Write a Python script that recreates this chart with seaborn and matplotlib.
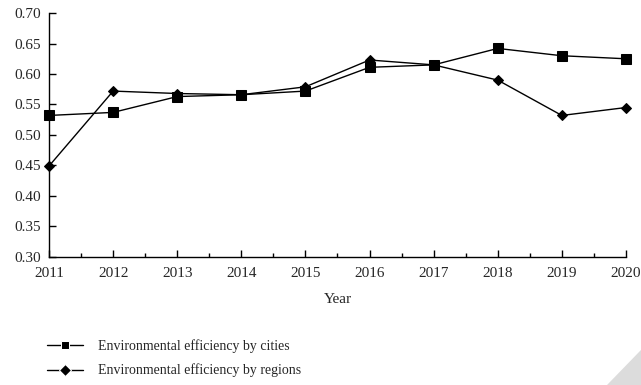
import pandas as pd
import matplotlib.pyplot as plt
import seaborn as sns
from matplotlib.ticker import MultipleLocator
from matplotlib.patches import Polygon

# data
years = [2011, 2012, 2013, 2014, 2015, 2016, 2017, 2018, 2019, 2020]
cities = [0.532, 0.537, 0.563, 0.566, 0.572, 0.611, 0.615, 0.642, 0.630, 0.625]
regions = [0.449, 0.572, 0.568, 0.566, 0.579, 0.623, 0.615, 0.590, 0.532, 0.545]
series_names = ["Environmental efficiency by cities", "Environmental efficiency by regions"]

df = pd.DataFrame({
    "Year": years * 2,
    "value": cities + regions,
    "series": [series_names[0]] * len(years) + [series_names[1]] * len(years),
})

sns.set_style("ticks")
plt.rcParams["font.family"] = ["Liberation Serif", "DejaVu Serif"]

fig = plt.figure(figsize=(6.41, 3.85), dpi=100)
ax = fig.add_axes([0.0765, 0.333, 0.9, 0.633])

sns.lineplot(data=df, x="Year", y="value", style="series", markers=["s", "D"],
             dashes=False, color="black", linewidth=1.0, ax=ax, legend=True)
# marker sizes as in the reference
for line, ms in zip(ax.lines, [7, 5.5]):
    line.set_markersize(ms)
    line.set_markeredgecolor("black")
    line.set_markerfacecolor("black")
    line.set_clip_on(False)

ax.set_xlim(2011, 2020)
ax.set_ylim(0.30, 0.70)
ax.set_xticks(years)
ax.xaxis.set_minor_locator(MultipleLocator(0.5))
ax.yaxis.set_major_locator(MultipleLocator(0.05))
ax.yaxis.set_major_formatter(plt.FormatStrFormatter("%.2f"))
ax.tick_params(axis="both", which="both", direction="in", color="black",
               labelsize=11, width=1.0)
ax.tick_params(axis="both", which="major", length=5)
ax.tick_params(axis="x", which="minor", length=3)
ax.tick_params(axis="x", pad=7)
ax.tick_params(axis="y", pad=6)
for s in ["top", "right"]:
    ax.spines[s].set_visible(False)
for s in ["left", "bottom"]:
    ax.spines[s].set_color("black")
    ax.spines[s].set_linewidth(1.0)

ax.set_xlabel("Year", fontsize=11, labelpad=10)
ax.set_ylabel("")

handles, labels = ax.get_legend_handles_labels()
ax.legend(handles, labels, loc="upper left", bbox_to_anchor=(-0.026, -0.285),
          frameon=False, fontsize=10, handlelength=2.6, labelspacing=0.8,
          handletextpad=1.1)
for h in ax.get_legend().legend_handles:
    h.set_color("black")

# corner decoration
fig.patches.append(Polygon([[1.0, 0.0], [1.0, 0.091], [0.947, 0.0]], closed=True,
                           transform=fig.transFigure, facecolor="#dcdcdc",
                           edgecolor="none"))

fig.savefig("out.png", dpi=100)
